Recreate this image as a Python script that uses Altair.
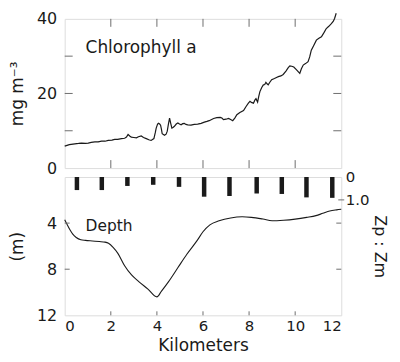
import altair as alt
import pandas as pd

FONT = "DejaVu Sans"
INK = "#1a1a1a"
FRAME = "#6e6e6e"

# ---- data ----
km_chl = [0.0, 0.2, 0.44, 0.6, 0.73, 0.9, 1.02, 1.15, 1.31, 1.45, 1.6, 1.75, 1.89, 2.05, 2.17, 2.3,
          2.46, 2.6, 2.68, 2.75, 2.82, 2.89, 3.0, 3.11, 3.2, 3.32, 3.42, 3.54, 3.65, 3.75, 3.87,
          3.93, 3.97, 4.03, 4.07, 4.12, 4.16, 4.2, 4.23, 4.33, 4.4, 4.45, 4.5, 4.55, 4.6, 4.65,
          4.7, 4.76, 4.84, 4.91, 4.98, 5.05, 5.12, 5.19, 5.26, 5.34, 5.48, 5.62, 5.77, 5.92,
          6.06, 6.17, 6.27, 6.46, 6.6, 6.75, 6.82, 6.89, 7.0, 7.11, 7.2, 7.29, 7.38, 7.47, 7.6,
          7.76, 7.87, 7.97, 8.04, 8.1, 8.19, 8.25, 8.3, 8.37, 8.42, 8.47, 8.55, 8.62, 8.68, 8.73,
          8.78, 8.83, 8.9, 8.98, 9.1, 9.19, 9.27, 9.38, 9.48, 9.6, 9.7, 9.77, 9.85, 9.94, 10.05,
          10.15, 10.2, 10.27, 10.35, 10.45, 10.56, 10.63, 10.7, 10.8, 10.92, 11.03, 11.14, 11.25,
          11.35, 11.46, 11.57, 11.65, 11.71, 11.78]
chl = [5.9, 6.3, 6.5, 6.6, 6.7, 6.6, 6.7, 6.9, 7.0, 7.0, 7.2, 7.2, 7.4, 7.5, 7.7, 7.7,
       7.9, 8.0, 8.3, 9.0, 8.6, 8.3, 8.2, 8.1, 8.4, 8.6, 8.2, 7.9, 7.6, 7.4, 7.9,
       9.5, 10.7, 11.8, 12.0, 11.8, 11.5, 10.3, 9.2, 8.8, 9.1, 9.9, 11.8, 13.4, 12.0, 10.7,
       10.9, 11.2, 11.8, 12.1, 11.8, 11.6, 11.9, 12.0, 11.7, 11.6, 11.5, 11.7, 11.8, 12.0,
       12.3, 12.5, 12.7, 13.3, 13.5, 13.6, 13.4, 13.0, 13.1, 13.3, 13.0, 12.7, 13.4, 14.3, 14.9,
       15.4, 16.5, 17.4, 17.9, 17.6, 17.4, 18.2, 18.6, 17.7, 19.2, 20.5, 21.6, 22.3, 22.4, 23.0,
       22.6, 22.3, 23.0, 23.7, 24.0, 24.3, 24.5, 24.7, 25.1, 26.0, 26.9, 27.4, 27.3, 27.1, 26.4,
       25.7, 25.4, 26.6, 27.6, 28.0, 28.5, 29.8, 31.6, 32.8, 34.3, 34.8, 35.2, 36.3,
       37.4, 38.0, 38.7, 39.3, 40.1, 41.5]

km_depth = [0, 0.1, 0.22, 0.35, 0.5, 0.7, 0.9, 1.2, 1.5, 1.75, 1.9, 2.1, 2.3, 2.6, 2.9, 3.2,
            3.6, 4.0, 4.2, 4.5, 4.9, 5.3, 5.75, 6.0, 6.3, 6.7, 7.2, 7.7, 8.1, 8.6, 9.0, 9.5,
            10.0, 10.5, 10.9, 11.2, 11.5, 11.8, 12.0]
depth = [3.7, 4.1, 4.55, 4.95, 5.25, 5.45, 5.5, 5.55, 5.6, 5.65, 5.75, 6.1, 6.6, 7.7, 8.5, 9.05,
         9.7, 10.4, 9.9, 9.1, 7.9, 6.7, 5.5, 4.75, 4.15, 3.8, 3.55, 3.45, 3.5, 3.65, 3.8, 3.75,
         3.65, 3.5, 3.35, 3.15, 2.95, 2.85, 2.8]

km_ratio = [0.53, 1.61, 2.72, 3.84, 4.96, 6.05, 7.15, 8.33, 9.42, 10.49, 11.61]
ratio = [0.57, 0.57, 0.39, 0.34, 0.43, 0.86, 0.83, 0.72, 0.74, 0.89, 0.91]

x_labels = [0, 2, 4, 6, 8, 10, 12]
x_ticks = [2, 4, 6, 8, 10]
chl_labels = [0, 20, 40]
chl_ticks = [10, 20, 30]
depth_labels = [4, 8, 12]
depth_ticks = [4, 8]
ratio_labels = [0, 1.0]
ratio_tick = [1.0]

# ---- layout ----
W, H1, H2 = 278, 150, 139
PX_PER_RATIO = 23.0

xs = alt.Scale(domain=[0, 12], nice=False, zero=False)
ys_chl = alt.Scale(domain=[0, 40], nice=False)
ys_dep = alt.Scale(domain=[0, 12], reverse=True, nice=False)
ys_rat = alt.Scale(domain=[0, H2 / PX_PER_RATIO], reverse=True, nice=False)

chl_df = pd.DataFrame({"km": km_chl, "chl": chl})
dep_df = pd.DataFrame({"km": km_depth, "depth": depth})
rat_df = pd.DataFrame({"km": km_ratio, "ratio": ratio})

axis_common = dict(ticks=False, domain=False, grid=False, labelFont=FONT, labelFontSize=16,
                   labelColor=INK, titleFont=FONT, titleFontWeight="normal", titleColor=INK)

chl_axis = alt.Axis(values=chl_labels, title="mg m⁻³", titleFontSize=17,
                    labelPadding=8, titlePadding=10, **axis_common)
km_axis = alt.Axis(values=x_labels, title="Kilometers", titleFontSize=17,
                   labelPadding=3, titlePadding=4,
                   **{**axis_common, "labelFontSize": 15})
dep_axis = alt.Axis(values=depth_labels, title="(m)", titleFontSize=17,
                    labelPadding=8, titlePadding=10, **axis_common)
rat_axis = alt.Axis(orient="right", values=ratio_labels,
                    labelExpr="datum.value == 0 ? '0' : '1.0'",
                    title="Zp : Zm", titleFontSize=16, titleAngle=90,
                    labelPadding=4, titlePadding=3,
                    **{**axis_common, "labelFontSize": 15})


def yticks(vals, scale, x0, x1, axis=None):
    return alt.Chart(pd.DataFrame({"v": vals})).mark_rule(color=FRAME, strokeWidth=1).encode(
        y=alt.Y("v:Q", scale=scale, axis=axis), x=alt.value(x0), x2=alt.value(x1))


def xticks(vals, y0, y1, axis=None):
    return alt.Chart(pd.DataFrame({"v": vals})).mark_rule(color=FRAME, strokeWidth=1).encode(
        x=alt.X("v:Q", scale=xs, axis=axis), y=alt.value(y0), y2=alt.value(y1))


def label(text, x, y, size):
    return alt.Chart(pd.DataFrame({"t": [text]})).mark_text(
        align="left", baseline="alphabetic", font=FONT, fontSize=size, color=INK
    ).encode(text="t:N", x=alt.value(x), y=alt.value(y))


chl_line = alt.Chart(chl_df).mark_line(color=INK, strokeWidth=1.2).encode(
    x=alt.X("km:Q", scale=xs, axis=None),
    y=alt.Y("chl:Q", scale=ys_chl, axis=chl_axis),
    order="km:Q",
)

top = alt.layer(
    chl_line,
    yticks(chl_ticks, ys_chl, 0, 8, chl_axis),
    yticks(chl_ticks, ys_chl, W - 8, W, chl_axis),
    xticks(x_ticks, H1, H1 - 8),
    xticks(x_ticks, 0, 8),
    label("Chlorophyll a", 21, 34, 17),
).properties(width=W, height=H1)

dep_line = alt.Chart(dep_df).mark_line(color=INK, strokeWidth=1.1, interpolate="monotone").encode(
    x=alt.X("km:Q", scale=xs, axis=km_axis),
    y=alt.Y("depth:Q", scale=ys_dep, axis=dep_axis),
    order="km:Q",
)

bars = alt.Chart(rat_df).mark_rule(color=INK, strokeWidth=4.5).encode(
    x=alt.X("km:Q", scale=xs, axis=km_axis),
    y=alt.Y("ratio:Q", scale=ys_rat, axis=rat_axis),
    y2=alt.datum(0),
)

bottom = alt.layer(
    dep_line,
    bars,
    yticks(depth_ticks, ys_dep, 0, 5),
    yticks(depth_ticks, ys_dep, W - 5, W),
    yticks(ratio_tick, ys_rat, W - 3, W + 3),
    xticks(x_ticks, H2, H2 - 4, km_axis),
    label("Depth", 21, 54, 15.5),
).resolve_scale(y="independent").properties(width=W, height=H2)

chart = alt.vconcat(top, bottom, spacing=9, bounds="flush").properties(
    padding={"left": 0, "top": 1, "right": 3, "bottom": 0}
).configure_view(stroke=FRAME, strokeWidth=1).configure(font=FONT)

chart.save("out.html", embed_options={"renderer": "svg", "actions": False})
